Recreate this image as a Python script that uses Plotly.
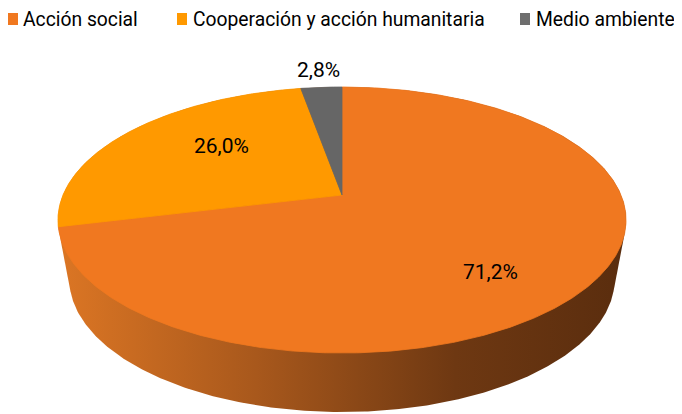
import numpy as np
import plotly.graph_objects as go

# ---- data ----
categories = ["Acción social", "Cooperación y acción humanitaria", "Medio ambiente"]
values = [71.2, 26.0, 2.8]

# ---- style / layout ----
colors = ["#F07820", "#FF9900", "#666666"]
legend_colors = ["#F07820", "#FF9900", "#6E6E6E"]
W, H = 682, 414
OFF = 8                    # page body margin compensation
CX, CY = 342, 195          # projected pie centre (pixels)
A, B, K = 279, 128.3, 0.188  # perspective ellipse parameters
DEPTH, BOT_SX = 59, 0.96
FONT = "Roboto"
LABEL_POS = [(490, 272), (221, 146), (318, 70)]
LEGEND_X = [(8, 21), (177, 191), (520, 534)]  # (square x, text x)


def proj(th):
    u, v = np.cos(th), np.sin(th)
    d = 1 + K * v
    return CX + A * u / d, CY - B * v / d


def hull(pts):
    pts = sorted(set(pts))
    def cross(o, a, b):
        return (a[0]-o[0])*(b[1]-o[1]) - (a[1]-o[1])*(b[0]-o[0])
    lower, upper = [], []
    for p in pts:
        while len(lower) >= 2 and cross(lower[-2], lower[-1], p) <= 0:
            lower.pop()
        lower.append(p)
    for p in reversed(pts):
        while len(upper) >= 2 and cross(upper[-2], upper[-1], p) <= 0:
            upper.pop()
        upper.append(p)
    return lower[:-1] + upper[:-1]


fig = go.Figure()

# side of the cylinder (convex hull of top and bottom rims)
th = np.linspace(0, 2*np.pi, 721)
xt, yt = proj(th)
xb = CX + BOT_SX * (xt - CX)
yb = yt + DEPTH
pts = [(round(x, 2), round(y, 2)) for x, y in zip(np.r_[xt, xb], np.r_[yt, yb])]
hp = hull(pts)
hx = [p[0] for p in hp] + [hp[0][0]]
hy = [p[1] for p in hp] + [hp[0][1]]
fig.add_trace(go.Scatter(
    x=hx, y=hy, mode="lines", fill="toself", line=dict(width=0),
    fillgradient=dict(type="horizontal",
                      colorscale=[[0, "#DC7624"], [0.35, "#A8581C"],
                                  [0.7, "#6E3812"], [1, "#5A2D0E"]]),
    hoverinfo="skip", showlegend=False))

# top faces
total = sum(values)
start = 90.0
for cat, val, col in zip(categories, values, colors):
    end = start - val / total * 360
    t = np.radians(np.linspace(start, end, max(int(abs(end-start)*2), 8)))
    ax, ay = proj(t)
    px = np.r_[CX, ax, CX]
    py = np.r_[CY, ay, CY]
    fig.add_trace(go.Scatter(
        x=px, y=py, mode="lines", fill="toself", fillcolor=col,
        line=dict(color=col, width=0.8), name=cat,
        hoverinfo="skip", showlegend=False))
    start = end

# data labels
for val, (lx, ly) in zip(values, LABEL_POS):
    fig.add_annotation(x=lx, y=ly, text=f"{val:.1f}".replace(".", ",") + "%",
                       showarrow=False, font=dict(family=FONT, size=21, color="#000000"),
                       xanchor="center", yanchor="middle")

# legend
for cat, col, (sx, tx) in zip(categories, legend_colors, LEGEND_X):
    fig.add_shape(type="rect", x0=sx, x1=sx+10, y0=13, y1=25,
                  fillcolor=col, line=dict(width=0), layer="above")
    fig.add_annotation(x=tx, y=19, text=cat, showarrow=False,
                       font=dict(family=FONT, size=19.3, color="#000000"),
                       xanchor="left", yanchor="middle")

fig.update_layout(
    width=W, height=H, margin=dict(l=0, r=0, t=0, b=0),
    paper_bgcolor="white", plot_bgcolor="white",
    xaxis=dict(range=[OFF, W + OFF], visible=False, fixedrange=True),
    yaxis=dict(range=[H + OFF, OFF], visible=False, fixedrange=True),
    showlegend=False,
)
fig.write_html("out.html")
